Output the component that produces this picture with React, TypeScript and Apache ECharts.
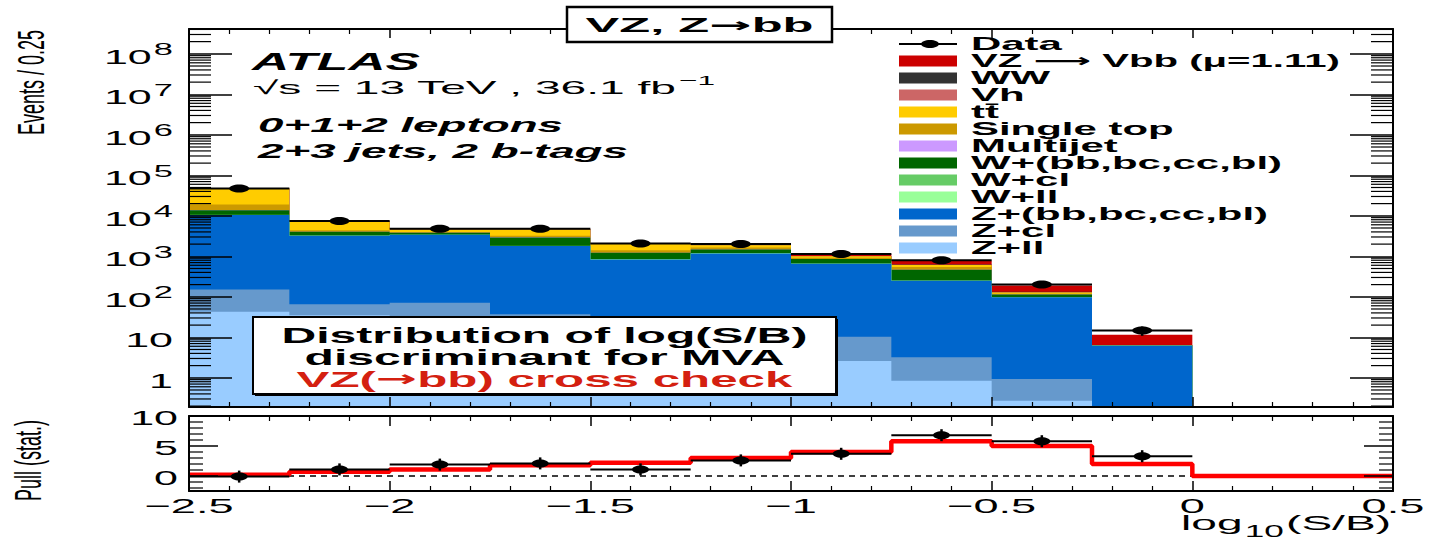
import React, { useEffect, useRef } from 'react';
import * as echarts from 'echarts';

// ---------------- data ----------------
const BIN_EDGES = [-2.5, -2.25, -2.0, -1.75, -1.5, -1.25, -1.0, -0.75, -0.5, -0.25, 0.0];
const PULL_EDGES = [-2.5, -2.25, -2.0, -1.75, -1.5, -1.25, -1.0, -0.75, -0.5, -0.25, 0.0, 0.25, 0.5];
const X_MIN = -2.5;
const X_MAX = 0.5;
const Y_MIN = 0.19;
const Y_MAX = 4.1e8;
const PULL_MIN = -2.5;
const PULL_MAX = 10;

// Events / 0.25 per bin, per sample (stack order is bottom = Z+ll ... top = VZ)
const VZ = [44, 60, 75, 123, 99, 130, 128, 146, 58, 5.1];
const WW = [60, 30, 20, 25, 15, 15, 11, 10, 3, 0.05];
const VH = [15, 10, 10, 10, 10, 10, 10, 9, 2.5, 0.05];
const TTBAR = [28345, 2850, 665, 1405, 585, 205, 75, 70, 8, 0.05];
const SINGLE_TOP = [5280, 380, 150, 265, 197, 178, 70, 76, 5, 0];
const MULTIJET = [20, 5, 5, 5, 3, 2, 1, 1, 0.5, 0];
const W_HF = [3250, 780, 380, 1100, 369, 290, 190, 210, 14.5, 0.1];
const W_CL = [110, 30, 15, 30, 10, 7, 8, 5, 2, 0];
const W_LL = [40, 10, 5, 10, 3, 3, 2, 1, 0.5, 0];
const Z_HF = [10248, 3145, 3329, 1753, 818, 1168, 643, 245, 96, 6.0];
const Z_CL = [109, 30, 46, 22, 12, 7, 7.7, 2.35, 0.66, 0.1];
const Z_LL = [43, 35, 25, 15, 8, 5, 2.6, 0.85, 0.27, 0.05];
const DATA = [47500, 7400, 4780, 4783, 2080, 2003, 1138, 801, 200, 14.7];

const PULL_DATA = [-0.1, 1.1, 1.9, 2.1, 1.1, 2.6, 3.7, 6.8, 5.8, 3.3];
const PULL_EXPECTED = [0.2, 0.7, 1.1, 1.8, 2.2, 3.0, 4.0, 5.8, 5.0, 2.0, 0, 0];

const LEGEND_LABELS = [
  'VZ \u27F6 Vbb (\u03bc=1.11)', 'WW', 'Vh', 'tt\u0304', 'Single top', 'Multijet',
  'W+(bb,bc,cc,bl)', 'W+cl', 'W+ll', 'Z+(bb,bc,cc,bl)', 'Z+cl', 'Z+ll',
];
const COLORS = [
  '#cc0000', '#333333', '#cc6666', '#ffcc00', '#cc9900', '#cc99ff',
  '#006600', '#66cc66', '#99ff99', '#0066cc', '#6699cc', '#99ccff',
];

const X_TICKS = [-2.5, -2, -1.5, -1, -0.5, 0, 0.5];
const X_TICK_LABELS = ['\u22122.5', '\u22122', '\u22121.5', '\u22121', '\u22120.5', '0', '0.5'];
const Y_TICKS = [1, 10, 1e2, 1e3, 1e4, 1e5, 1e6, 1e7, 1e8];
const Y_TICK_BASE = ['1', '10', '10', '10', '10', '10', '10', '10', '10'];
const Y_TICK_EXP = ['', '', '2', '3', '4', '5', '6', '7', '8'];
const PULL_TICKS = [0, 5, 10];
const PULL_TICK_LABELS = ['0', '5', '10'];
const PULL_MINOR = [-2, -1, 1, 2, 3, 4, 6, 7, 8, 9];

// ---------------- helpers ----------------
const FAMILY = "'Liberation Sans', Arial, Helvetica, 'DejaVu Sans', sans-serif";
const ARROW_FAMILY = "'DejaVu Sans', sans-serif";
const fnt = (size: number, weight = 'normal', style = 'normal', family = FAMILY) => `${style} ${weight} ${size}px ${family}`;
let _ctx: CanvasRenderingContext2D | null = null;
function tw(text: string, font: string): number {
  if (!_ctx) _ctx = document.createElement('canvas').getContext('2d');
  _ctx!.font = font;
  return _ctx!.measureText(text).width;
}
function txtStyle(text: string, font: string, fill: string, align: string, x = 0, y = 0) {
  return {
    text, font, fill, x, y,
    align, textAlign: align, verticalAlign: 'middle', textVerticalAlign: 'middle',
  };
}
function fitText(text: string, font: string, x: number, cy: number, target: number, align = 'left', fill = '#000') {
  const sx = target / tw(text, font);
  return { type: 'text', x, y: cy, scaleX: sx, z: 100, silent: true, style: txtStyle(text, font, fill, align) };
}
// text with a bold arrow drawn from DejaVu Sans in the middle
function arrowText(before: string, after: string, size: number, x: number, cy: number, target: number, align = 'left', fill = '#000') {
  const fa = fnt(size, 'bold');
  const fb = fnt(size, 'bold', 'normal', ARROW_FAMILY);
  const w = tw(before, fa) + tw('\u2192', fb) + tw(after, fa);
  const sx = target / w;
  return {
    type: 'text', x, y: cy, scaleX: sx, z: 100, silent: true,
    style: {
      text: `{a|${before}}{b|\u2192}{a|${after}}`,
      fill, x: 0, y: 0,
      align, textAlign: align, verticalAlign: 'middle', textVerticalAlign: 'middle',
      rich: {
        a: { fontSize: size, fontWeight: 'bold', fontFamily: FAMILY, fill },
        b: { fontSize: size, fontWeight: 'bold', fontFamily: ARROW_FAMILY, fill },
      },
    },
  };
}

const BLACK = '#000';

function buildOption() {
  const comps = [VZ, WW, VH, TTBAR, SINGLE_TOP, MULTIJET, W_HF, W_CL, W_LL, Z_HF, Z_CL, Z_LL];
  const nB = DATA.length;
  const cum: number[][] = comps.map(() => new Array(nB).fill(0));
  for (let i = comps.length - 1; i >= 0; i--) {
    for (let b = 0; b < nB; b++) {
      cum[i][b] = comps[i][b] + (i < comps.length - 1 ? cum[i + 1][b] : 0);
    }
  }

  const stackSeries = comps.map((_, i) => ({
    type: 'custom',
    name: LEGEND_LABELS[i],
    xAxisIndex: 0,
    yAxisIndex: 0,
    silent: true,
    clip: true,
    z: 2,
    data: [[X_MIN, Y_MIN]],
    renderItem: (_p: any, api: any) => {
      const pts: number[][] = [api.coord([BIN_EDGES[0], Y_MIN])];
      for (let b = 0; b < nB; b++) {
        const top = Math.max(cum[i][b], Y_MIN);
        pts.push(api.coord([BIN_EDGES[b], top]));
        pts.push(api.coord([BIN_EDGES[b + 1], top]));
      }
      pts.push(api.coord([BIN_EDGES[nB], Y_MIN]));
      return { type: 'polygon', shape: { points: pts }, style: { fill: COLORS[i] } };
    },
  }));

  const dataSeries = {
    type: 'custom',
    name: 'Data',
    xAxisIndex: 0,
    yAxisIndex: 0,
    silent: true,
    clip: false,
    z: 6,
    encode: { x: 0, y: 1 },
    data: DATA.map((v, b) => [(BIN_EDGES[b] + BIN_EDGES[b + 1]) / 2, v, BIN_EDGES[b], BIN_EDGES[b + 1]]),
    renderItem: (_p: any, api: any) => {
      const xc = api.value(0), v = api.value(1), xl = api.value(2), xr = api.value(3);
      const e = Math.sqrt(v);
      const c = api.coord([xc, v]);
      const l = api.coord([xl, v]);
      const r = api.coord([xr, v]);
      const lo = api.coord([xc, Math.max(v - e, Y_MIN)]);
      const hi = api.coord([xc, v + e]);
      return {
        type: 'group',
        children: [
          { type: 'line', shape: { x1: l[0], y1: l[1], x2: r[0], y2: r[1] }, style: { stroke: BLACK, lineWidth: 2 } },
          { type: 'line', shape: { x1: c[0], y1: lo[1], x2: c[0], y2: hi[1] }, style: { stroke: BLACK, lineWidth: 2.5 } },
          { type: 'ellipse', shape: { cx: c[0], cy: c[1], rx: 10, ry: 4 }, style: { fill: BLACK } },
        ],
      };
    },
  };

  const pullDataSeries = {
    type: 'custom',
    name: 'Pull',
    xAxisIndex: 2,
    yAxisIndex: 2,
    silent: true,
    clip: false,
    z: 6,
    encode: { x: 0, y: 1 },
    data: PULL_DATA.map((v, b) => [(BIN_EDGES[b] + BIN_EDGES[b + 1]) / 2, v, BIN_EDGES[b], BIN_EDGES[b + 1]]),
    renderItem: (_p: any, api: any) => {
      const xc = api.value(0), v = api.value(1), xl = api.value(2), xr = api.value(3);
      const c = api.coord([xc, v]);
      const l = api.coord([xl, v]);
      const r = api.coord([xr, v]);
      const lo = api.coord([xc, v - 1]);
      const hi = api.coord([xc, v + 1]);
      return {
        type: 'group',
        children: [
          { type: 'line', shape: { x1: l[0], y1: l[1], x2: r[0], y2: r[1] }, style: { stroke: BLACK, lineWidth: 2 } },
          { type: 'line', shape: { x1: c[0], y1: lo[1], x2: c[0], y2: hi[1] }, style: { stroke: BLACK, lineWidth: 2.5 } },
          { type: 'ellipse', shape: { cx: c[0], cy: c[1], rx: 8.5, ry: 4 }, style: { fill: BLACK } },
        ],
      };
    },
  };

  const expectedLine = {
    type: 'line',
    xAxisIndex: 2,
    yAxisIndex: 2,
    step: 'end',
    symbol: 'none',
    silent: true,
    z: 4,
    lineStyle: { color: '#ff0000', width: 4.5 },
    data: [...PULL_EXPECTED.map((v, i) => [PULL_EDGES[i], v]), [PULL_EDGES[PULL_EDGES.length - 1], PULL_EXPECTED[PULL_EXPECTED.length - 1]]],
  };

  const zeroLine = {
    type: 'line',
    xAxisIndex: 2,
    yAxisIndex: 2,
    symbol: 'none',
    silent: true,
    z: 3,
    lineStyle: { color: BLACK, width: 1.5, type: [6, 5] },
    data: [[X_MIN, 0], [X_MAX, 0]],
  };

  // log minor ticks
  const logMinor: number[] = [];
  for (let k = -1; k <= 8; k++) {
    for (let m = 2; m <= 9; m++) {
      const v = m * Math.pow(10, k);
      if (v > Y_MIN && v < Y_MAX) logMinor.push(v);
    }
  }
  const minorTickSeries = (xi: number, yi: number, vals: number[], len: number) => ({
    type: 'custom',
    xAxisIndex: xi,
    yAxisIndex: yi,
    silent: true,
    clip: false,
    z: 10,
    data: vals.map((v) => [X_MIN, v]),
    renderItem: (_p: any, api: any) => {
      const v = api.value(1);
      const p = api.coord([X_MIN, v]);
      const q = api.coord([X_MAX, v]);
      return {
        type: 'group',
        children: [
          { type: 'line', shape: { x1: p[0], y1: p[1], x2: p[0] + len, y2: p[1] }, style: { stroke: BLACK, lineWidth: 1.2 } },
          { type: 'line', shape: { x1: q[0] - len, y1: q[1], x2: q[0], y2: q[1] }, style: { stroke: BLACK, lineWidth: 1.2 } },
        ],
      };
    },
  });

  // tick label series
  const LBL_SX = 2.15;
  const yLabelSeries = {
    type: 'custom',
    xAxisIndex: 0,
    yAxisIndex: 0,
    silent: true,
    clip: false,
    z: 10,
    data: Y_TICKS.map((v) => [X_MIN, v]),
    renderItem: (params: any, api: any) => {
      const i = params.dataIndex;
      const p = api.coord([X_MIN, api.value(1)]);
      const exp = Y_TICK_EXP[i];
      const supFont = fnt(16);
      const supW = exp ? tw(exp, supFont) + 1 : 0;
      const children: any[] = [
        { type: 'text', style: txtStyle(Y_TICK_BASE[i], fnt(20), BLACK, 'right', -supW, 3) },
      ];
      if (exp) children.push({ type: 'text', style: txtStyle(exp, supFont, BLACK, 'right', 0, -4) });
      return { type: 'group', x: p[0] - 16, y: p[1], scaleX: LBL_SX, children };
    },
  };
  const pullLabelSeries = {
    type: 'custom',
    xAxisIndex: 2,
    yAxisIndex: 2,
    silent: true,
    clip: false,
    z: 10,
    data: PULL_TICKS.map((v) => [X_MIN, v]),
    renderItem: (params: any, api: any) => {
      const p = api.coord([X_MIN, api.value(1)]);
      return {
        type: 'text', x: p[0] - 11, y: p[1] + 2, scaleX: LBL_SX,
        style: txtStyle(PULL_TICK_LABELS[params.dataIndex], fnt(20), BLACK, 'right'),
      };
    },
  };
  const xLabelSeries = {
    type: 'custom',
    xAxisIndex: 2,
    yAxisIndex: 2,
    silent: true,
    clip: false,
    z: 10,
    data: X_TICKS.map((v) => [v, PULL_MIN]),
    renderItem: (params: any, api: any) => {
      const p = api.coord([api.value(0), PULL_MIN]);
      return {
        type: 'text', x: p[0], y: p[1] + 15, scaleX: 2.15,
        style: txtStyle(X_TICK_LABELS[params.dataIndex], fnt(21), BLACK, 'center'),
      };
    },
  };

  // ---------- axes ----------
  const lineStyle = { color: BLACK, width: 2 };
  const tickStyle = { color: BLACK, width: 1.5 };
  const xAxisBase = (grid: number, pos: string, major: number, minor: number) => ({
    type: 'value', gridIndex: grid, position: pos, min: X_MIN, max: X_MAX, interval: 0.5, z: 10,
    axisLine: { show: true, onZero: false, lineStyle },
    axisTick: { show: true, inside: true, length: major, lineStyle: tickStyle },
    minorTick: { show: true, splitNumber: 5, length: minor, lineStyle: { color: BLACK, width: 1.2 } },
    axisLabel: { show: false },
    splitLine: { show: false },
    minorSplitLine: { show: false },
  });
  const yLog = (pos: string) => ({
    type: 'log', logBase: 10, gridIndex: 0, position: pos, min: Y_MIN, max: Y_MAX, splitNumber: 9, z: 10,
    axisLine: { show: true, onZero: false, lineStyle },
    axisTick: { show: true, inside: true, length: 43, lineStyle: tickStyle },
    axisLabel: { show: false },
    splitLine: { show: false },
  });
  const yPull = (pos: string) => ({
    type: 'value', gridIndex: 1, position: pos, min: PULL_MIN, max: PULL_MAX, splitNumber: 2, z: 10,
    axisLine: { show: true, onZero: false, lineStyle },
    axisTick: { show: true, inside: true, length: 29, lineStyle: tickStyle },
    axisLabel: { show: false },
    splitLine: { show: false },
  });

  // ---------- graphic (texts, legend, boxes) ----------
  const g: any[] = [];
  // axis titles
  g.push({ type: 'text', x: 31, y: 30, rotation: Math.PI / 2, scaleY: 2.1, z: 100, silent: true,
    style: txtStyle('Events / 0.25', fnt(18), BLACK, 'right') });
  g.push({ type: 'text', x: 28, y: 420, rotation: Math.PI / 2, scaleY: 2.1, z: 100, silent: true,
    style: txtStyle('Pull (stat.)', fnt(18), BLACK, 'right') });
  {
    const f1 = fnt(21), f2 = fnt(16);
    const w1 = tw('(S/B)', f1), w2 = tw('10', f2), w3 = tw('log', f1);
    const sx = 210 / (w1 + w2 + w3 + 2);
    g.push({ type: 'group', x: 1391, y: 523, scaleX: sx, z: 100, silent: true, children: [
      { type: 'text', z: 100, style: txtStyle('(S/B)', f1, BLACK, 'right', 0, 0) },
      { type: 'text', z: 100, style: txtStyle('10', f2, BLACK, 'right', -w1 - 1, 8) },
      { type: 'text', z: 100, style: txtStyle('log', f1, BLACK, 'right', -w1 - w2 - 2, 0) },
    ] });
  }
  // title box
  g.push({ type: 'rect', z: 100, silent: true, shape: { x: 567, y: 7, width: 265, height: 35 },
    style: { fill: '#fff', stroke: BLACK, lineWidth: 2.5 } });
  g.push(arrowText('VZ, Z', 'bb', 20, 699.5, 25, 228, 'center'));
  // ATLAS labels
  g.push(fitText('ATLAS', fnt(24, 'bold', 'italic'), 252, 62, 168));
  {
    const f = fnt(19);
    const main = '\u221As = 13 TeV , 36.1 fb';
    const sx = 424 / tw(main, f);
    g.push({ type: 'text', x: 253, y: 87, scaleX: sx, z: 100, silent: true, style: txtStyle(main, f, BLACK, 'left') });
    g.push({ type: 'text', x: 679, y: 80, scaleX: sx, z: 100, silent: true, style: txtStyle('\u22121', fnt(13), BLACK, 'left') });
  }
  g.push(fitText('0+1+2 leptons', fnt(21, 'bold', 'italic'), 258, 125, 305));
  g.push(fitText('2+3 jets, 2 b-tags', fnt(21, 'bold', 'italic'), 258, 151, 370));
  // legend
  const LEG_SX = 2.33;
  const legFont = fnt(18, 'bold');
  const rowY = (r: number) => 44 + 17 * r;
  g.push({ type: 'line', z: 100, silent: true, shape: { x1: 899, y1: rowY(0), x2: 957, y2: rowY(0) }, style: { stroke: BLACK, lineWidth: 2 } });
  g.push({ type: 'ellipse', z: 100, silent: true, shape: { cx: 930, cy: rowY(0), rx: 9, ry: 4 }, style: { fill: BLACK } });
  g.push({ type: 'text', x: 971, y: rowY(0), scaleX: LEG_SX, z: 100, silent: true, style: txtStyle('Data', legFont, BLACK, 'left') });
  LEGEND_LABELS.forEach((name, i) => {
    const y = rowY(i + 1);
    g.push({ type: 'rect', z: 100, silent: true, shape: { x: 899, y: y - 5.5, width: 58, height: 11 }, style: { fill: COLORS[i] } });
    if (i === 0) {
      g.push(fitText(name, legFont, 971, y, 369));
    } else {
      g.push({ type: 'text', x: 971, y, scaleX: LEG_SX, z: 100, silent: true, style: txtStyle(name, legFont, BLACK, 'left') });
    }
  });
  // description box
  g.push({ type: 'rect', z: 100, silent: true, shape: { x: 255, y: 319, width: 583, height: 77 }, style: { fill: BLACK } });
  g.push({ type: 'rect', z: 100, silent: true, shape: { x: 253, y: 317, width: 583, height: 77 },
    style: { fill: '#fff', stroke: BLACK, lineWidth: 2 } });
  g.push(fitText('Distribution of log(S/B)', fnt(22, 'bold'), 544.5, 335, 526, 'center'));
  g.push(fitText('discriminant for MVA', fnt(22, 'bold'), 544.5, 357, 480, 'center'));
  g.push(arrowText('VZ(', 'bb) cross check', 22, 544.5, 379, 496, 'center', '#d42010'));

  return {
    animation: false,
    backgroundColor: '#ffffff',
    grid: [
      { left: 189, top: 29, width: 1204, height: 378, containLabel: false },
      { left: 189, top: 416, width: 1204, height: 75, containLabel: false },
    ],
    xAxis: [
      xAxisBase(0, 'bottom', 10, 5),
      xAxisBase(0, 'top', 9, 5),
      xAxisBase(1, 'bottom', 10, 5),
      xAxisBase(1, 'top', 10, 5),
    ],
    yAxis: [yLog('left'), yLog('right'), yPull('left'), yPull('right')],
    series: [
      ...stackSeries,
      dataSeries,
      zeroLine,
      expectedLine,
      pullDataSeries,
      minorTickSeries(0, 0, logMinor, 22),
      minorTickSeries(2, 2, PULL_MINOR, 14),
      yLabelSeries,
      pullLabelSeries,
      xLabelSeries,
    ],
    graphic: { elements: g },
  };
}

export default function App() {
  const ref = useRef<HTMLDivElement>(null);
  useEffect(() => {
    const el = ref.current;
    if (!el) return;
    const chart = echarts.init(el, undefined, { renderer: 'svg' });
    chart.setOption(buildOption() as any);
    return () => {
      chart.dispose();
    };
  }, []);
  return (
    <div
      ref={ref}
      style={{ position: 'fixed', left: 0, top: 0, width: 1432, height: 541, background: '#fff' }}
    />
  );
}
